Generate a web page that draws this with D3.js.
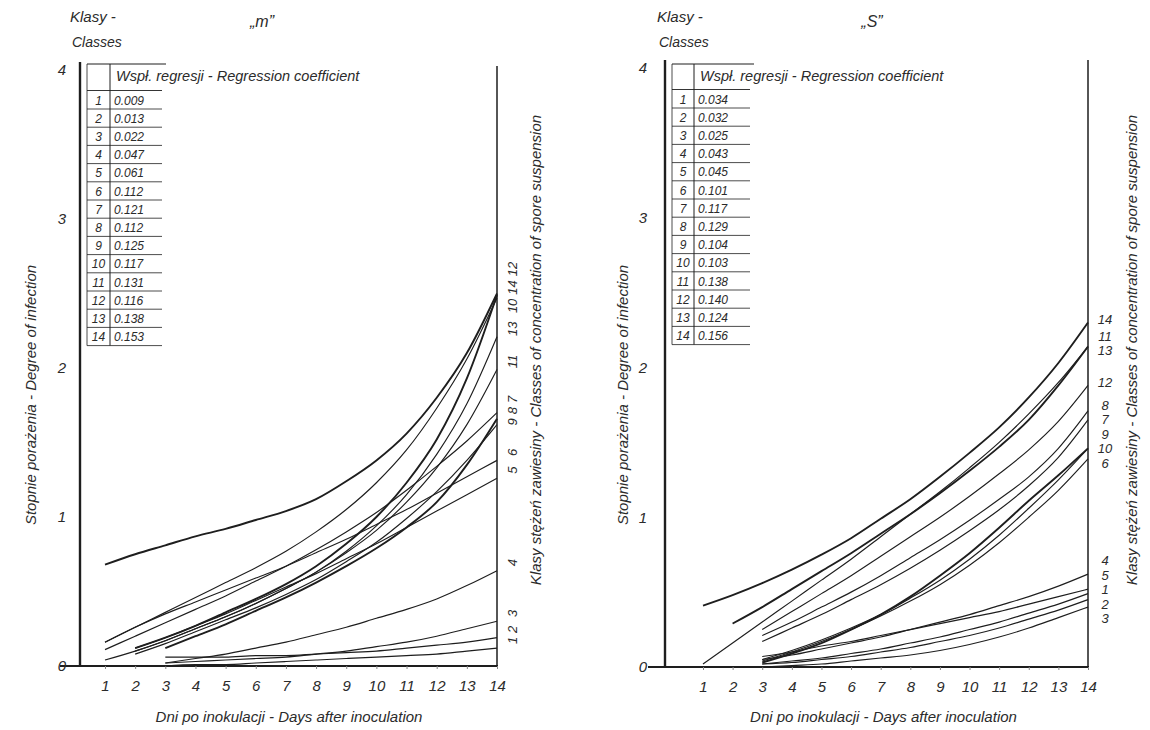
<!DOCTYPE html>
<html>
<head>
<meta charset="utf-8">
<script src="https://cdn.jsdelivr.net/npm/d3@7"></script>
<style>
body{margin:0;background:#fff}
svg text{font-family:"Liberation Sans",Arial,sans-serif;font-style:italic;fill:#2b2b2b}
</style>
</head>
<body>
<svg id="chart" width="1150" height="730"></svg>
<script>
// days after inoculation, degree ticks
var days=d3.range(1,15);
var yTicks=[0,1,2,3,4];
var classes=["1","2","3","4","5","6","7","8","9","10","11","12","13","14"];

// regression coefficients (tables)
var mCoef=[0.009,0.013,0.022,0.047,0.061,0.112,0.121,0.112,0.125,0.117,0.131,0.116,0.138,0.153];
var sCoef=[0.034,0.032,0.025,0.043,0.045,0.101,0.117,0.129,0.104,0.103,0.138,0.140,0.124,0.156];

// "m" - first day of each curve and degree of infection per day
var mStart=[3,3,3,3,2,1,1,3,2,1,2,1,1,2];
var mDegree=[
 [0.00,0.01,0.01,0.02,0.03,0.04,0.05,0.06,0.07,0.08,0.10,0.12],
 [0.06,0.06,0.06,0.07,0.07,0.08,0.09,0.10,0.12,0.14,0.16,0.19],
 [0.02,0.03,0.04,0.05,0.06,0.08,0.10,0.13,0.16,0.20,0.25,0.30],
 [0.02,0.05,0.08,0.12,0.16,0.21,0.26,0.32,0.38,0.45,0.54,0.64],
 [0.12,0.19,0.27,0.35,0.44,0.53,0.62,0.72,0.82,0.93,1.04,1.15,1.26],
 [0.16,0.26,0.35,0.43,0.51,0.59,0.67,0.76,0.85,0.95,1.05,1.16,1.27,1.38],
 [0.11,0.20,0.29,0.38,0.47,0.57,0.67,0.78,0.90,1.03,1.18,1.34,1.51,1.70],
 [0.12,0.20,0.28,0.37,0.46,0.56,0.67,0.79,0.93,1.10,1.35,1.66],
 [0.08,0.15,0.23,0.31,0.39,0.48,0.58,0.70,0.83,0.99,1.17,1.38,1.62],
 [0.16,0.26,0.36,0.46,0.56,0.66,0.77,0.90,1.05,1.23,1.45,1.73,2.06,2.47],
 [0.10,0.17,0.25,0.33,0.42,0.52,0.63,0.76,0.91,1.10,1.33,1.62,1.99],
 [0.68,0.75,0.81,0.87,0.92,0.98,1.04,1.12,1.24,1.38,1.56,1.80,2.10,2.50],
 [0.04,0.10,0.17,0.25,0.33,0.42,0.52,0.63,0.77,0.94,1.15,1.42,1.76,2.21],
 [0.12,0.19,0.27,0.36,0.45,0.55,0.67,0.82,1.00,1.23,1.52,1.93,2.49]
];

// "S"
var sStart=[3,3,3,3,3,3,3,3,3,3,1,3,2,1];
var sDegree=[
 [0.02,0.04,0.06,0.09,0.12,0.16,0.20,0.25,0.30,0.36,0.42,0.49],
 [0.02,0.03,0.05,0.07,0.10,0.13,0.17,0.21,0.26,0.32,0.38,0.45],
 [0.00,0.01,0.02,0.04,0.06,0.08,0.11,0.15,0.20,0.26,0.33,0.40],
 [0.05,0.08,0.12,0.16,0.20,0.25,0.30,0.35,0.41,0.47,0.54,0.62],
 [0.07,0.10,0.14,0.17,0.21,0.25,0.29,0.33,0.37,0.42,0.47,0.52],
 [0.04,0.10,0.17,0.25,0.34,0.44,0.55,0.68,0.83,1.00,1.18,1.39],
 [0.17,0.26,0.35,0.45,0.55,0.66,0.78,0.91,1.05,1.21,1.40,1.65],
 [0.21,0.30,0.40,0.50,0.61,0.73,0.85,0.98,1.12,1.27,1.46,1.71],
 [0.05,0.11,0.18,0.26,0.35,0.46,0.58,0.72,0.88,1.06,1.25,1.46],
 [0.03,0.09,0.16,0.25,0.35,0.47,0.61,0.76,0.93,1.11,1.28,1.46],
 [0.02,0.16,0.30,0.44,0.58,0.72,0.87,1.02,1.17,1.33,1.50,1.69,1.90,2.14],
 [0.25,0.37,0.49,0.61,0.74,0.87,1.00,1.14,1.29,1.45,1.64,1.88],
 [0.29,0.40,0.52,0.64,0.76,0.89,1.02,1.16,1.31,1.47,1.65,1.88,2.14],
 [0.41,0.48,0.56,0.65,0.75,0.86,0.99,1.12,1.27,1.43,1.60,1.80,2.03,2.30]
];

var svg=d3.select('#chart');
var ink='#1e1e1e';

function spread(items,gap){
  for(var it=0;it<400;it++){
    var moved=false;
    for(var i=1;i<items.length;i++){
      var need=gap(items[i-1],items[i]);
      var d=items[i].y-items[i-1].y;
      if(d<need-0.01){var s=(need-d)/2;items[i].y+=s;items[i-1].y-=s;moved=true;}
    }
    if(!moved)break;
  }
}

function panel(p){
  var g=svg.append('g');
  var x=d3.scaleLinear().domain([1,14]).range([p.left,p.right]);
  var y=d3.scaleLinear().domain([0,4]).range([p.bottom,p.top]);

  // frame: y axis, base line, right wall
  g.append('line').attr('x1',p.axisX).attr('x2',p.axisX).attr('y1',p.axisTop).attr('y2',p.bottom+1)
   .attr('stroke',ink).attr('stroke-width',2.4);
  g.append('line').attr('x1',p.baseFrom).attr('x2',p.right+1).attr('y1',p.bottom).attr('y2',p.bottom)
   .attr('stroke',ink).attr('stroke-width',1.8);
  g.append('line').attr('x1',p.right).attr('x2',p.right).attr('y1',p.wallTop).attr('y2',p.bottom)
   .attr('stroke',ink).attr('stroke-width',1.5);

  var ya=g.append('g').attr('transform','translate('+p.axisX+',0)')
   .call(d3.axisLeft(y).tickValues(yTicks).tickSize(0).tickPadding(p.yPad).tickFormat(d3.format('d')));
  ya.select('.domain').remove();
  ya.selectAll('text').attr('font-size',15).style('font-family','"Liberation Sans",Arial,sans-serif');

  var xa=g.append('g').attr('transform','translate(0,'+p.bottom+')')
   .call(d3.axisBottom(x).tickValues(days).tickSize(3).tickPadding(11).tickFormat(d3.format('d')));
  xa.select('.domain').remove();
  xa.selectAll('line').attr('stroke','#888');
  xa.selectAll('text').attr('font-size',15).style('font-family','"Liberation Sans",Arial,sans-serif');

  // curves
  var line=d3.line().x(function(d){return x(d[0]);}).y(function(d){return y(d[1]);}).curve(d3.curveMonotoneX);
  var ends=[];
  p.degree.forEach(function(vals,i){
    var pts=vals.map(function(v,k){return [p.start[i]+k,v];});
    g.append('path').attr('d',line(pts)).attr('fill','none').attr('stroke',ink)
     .attr('stroke-width',p.bold.indexOf(classes[i])>=0?1.9:1.15);
    ends.push({c:classes[i],v:vals[vals.length-1]});
  });

  // end labels (class numbers)
  var items=ends.map(function(e){return {c:e.c,v:e.v,y:y(e.v)-p.labelShift};});
  items.sort(function(a,b){return b.v-a.v;});
  spread(items,function(a,b){
    if(!p.rotLabels) return p.labelGap;
    return (a.c.length+b.c.length)*3.6+4;
  });
  items.forEach(function(it){
    var t=g.append('text').text(it.c).attr('font-size',13).attr('text-anchor','middle')
     .attr('dominant-baseline','central');
    if(p.rotLabels) t.attr('transform','translate('+p.labelX+','+it.y+') rotate(-90)');
    else t.attr('x',p.labelX).attr('y',it.y);
  });

  // table of regression coefficients
  var rowH=18.2;
  var tb=g.append('g');
  tb.append('line').attr('x1',p.tL).attr('x2',p.tR+4).attr('y1',p.tTop).attr('y2',p.tTop).attr('stroke',ink).attr('stroke-width',1);
  tb.append('line').attr('x1',p.tL).attr('x2',p.tL).attr('y1',p.tTop).attr('y2',p.row0+13*rowH+9).attr('stroke',ink).attr('stroke-width',0.8);
  tb.append('line').attr('x1',p.tDiv).attr('x2',p.tDiv).attr('y1',p.tTop).attr('y2',p.row0+13*rowH+9).attr('stroke',ink).attr('stroke-width',1);
  tb.append('line').attr('x1',p.tL).attr('x2',p.tR).attr('y1',p.row0-9.5).attr('y2',p.row0-9.5).attr('stroke',ink).attr('stroke-width',0.9);
  tb.append('text').text('Wspł. regresji - Regression coefficient').attr('x',p.tDiv+6).attr('y',p.tTop+17).attr('font-size',14.5);
  p.coef.forEach(function(c,i){
    var cy=p.row0+i*rowH;
    tb.append('text').text(classes[i]).attr('x',(p.tL+p.tDiv)/2).attr('y',cy+4.5).attr('font-size',12).attr('text-anchor','middle');
    tb.append('text').text(d3.format('.3f')(c)).attr('x',p.tDiv+4).attr('y',cy+4.5).attr('font-size',12);
    tb.append('line').attr('x1',p.tL).attr('x2',p.tR).attr('y1',cy+9).attr('y2',cy+9).attr('stroke',ink).attr('stroke-width',0.8);
  });

  // titles
  g.append('text').text('Klasy -').attr('x',p.klasyX).attr('y',22).attr('font-size',15);
  g.append('text').text('Classes').attr('x',p.klasyX+2).attr('y',47).attr('font-size',14);
  g.append('text').text(p.title).attr('x',p.titleX).attr('y',27).attr('font-size',16).attr('text-anchor','middle');
  g.append('text').text('Dni po inokulacji - Days after inoculation')
   .attr('x',(p.left+p.right)/2-12).attr('y',722).attr('font-size',15).attr('text-anchor','middle');
  g.append('text').text('Stopnie porażenia - Degree of infection').attr('font-size',15).attr('text-anchor','middle')
   .attr('transform','translate('+p.yTitleX+',395) rotate(-90)');
  g.append('text').text('Klasy stężeń zawiesiny - Classes of concentration of spore suspension')
   .attr('font-size',15).attr('text-anchor','middle')
   .attr('transform','translate('+p.rTitleX+',350) rotate(-90)');
}

panel({left:105,right:497,top:70,bottom:666,axisX:80,axisTop:62,wallTop:66,baseFrom:60,yPad:14,
  degree:mDegree,start:mStart,coef:mCoef,bold:['12','14','8'],
  rotLabels:true,labelX:512,labelShift:8,labelGap:13,
  tL:87,tDiv:110,tR:162,tTop:64,row0:100,
  klasyX:70,title:'„m”',titleX:262,yTitleX:36,rTitleX:541});

panel({left:703,right:1088,top:68,bottom:667,axisX:665,axisTop:60,wallTop:60,baseFrom:648,yPad:18,
  degree:sDegree,start:sStart,coef:sCoef,bold:['13','10','14'],
  rotLabels:false,labelX:1105,labelShift:3,labelGap:14.5,
  tL:672,tDiv:694,tR:750,tTop:64,row0:99,
  klasyX:657,title:'„S”',titleX:872,yTitleX:628,rTitleX:1137});
</script>
</body>
</html>
